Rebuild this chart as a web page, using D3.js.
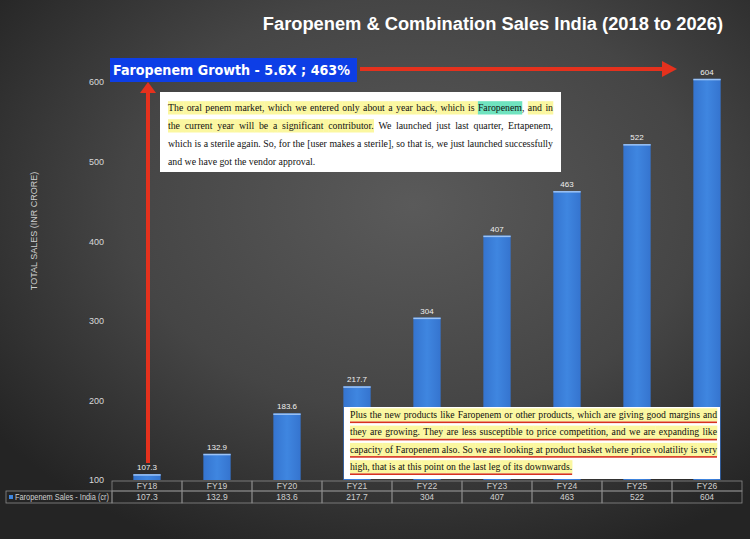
<!DOCTYPE html>
<html>
<head>
<meta charset="utf-8">
<script src="https://cdn.jsdelivr.net/npm/d3@7"></script>
<style>
  html, body { margin: 0; padding: 0; background: #2a2a2a; }
  svg { display: block; }
</style>
</head>
<body>
<svg id="chart" width="750" height="539"></svg>
<script>
// ---------- data ----------
const categories = ["FY18", "FY19", "FY20", "FY21", "FY22", "FY23", "FY24", "FY25", "FY26"];
const salesValues = [107.3, 132.9, 183.6, 217.7, 304, 407, 463, 522, 604];
const yTicks = [100, 200, 300, 400, 500, 600];
const seriesName = "Faropenem Sales - India (cr)";
const chartTitle = "Faropenem & Combination Sales India (2018 to 2026)";
const yAxisTitle = "TOTAL SALES (INR CRORE)";
const growthLabel = "Faropenem Growth - 5.6X ; 463%";

// quote boxes: segments with highlight keys (y = yellow, g = green, null = none)
const quote1Lines = [
  [{t: "The oral penem market, which we entered only about a year back, which is ", h: "y"}, {t: "Faropenem", h: "g"}, {t: ", ", h: null}, {t: "and in", h: "y"}],
  [{t: "the current year will be a significant contributor.", h: "y"}, {t: " We launched just last quarter, Ertapenem,", h: null}],
  [{t: "which is a sterile again. So, for the [user makes a sterile], so that is, we just launched successfully", h: null}],
  [{t: "and we have got the vendor approval.", h: null}]
];
const quote2Lines = [
  [{t: "Plus the new products like Faropenem or other products, which are giving good margins and", h: "y"}],
  [{t: "they are growing. They are less susceptible to price competition, and we are expanding like", h: "y"}],
  [{t: "capacity of Faropenem also. So we are looking at product basket where price volatility is very", h: "y"}],
  [{t: "high, that is at this point on the last leg of its downwards.", h: "y"}]
];

// ---------- setup ----------
const svg = d3.select("#chart");
const W = 750, H = 539;
const defs = svg.append("defs");

const bg = defs.append("radialGradient").attr("id", "bg")
  .attr("cx", "55%").attr("cy", "38%").attr("r", "70%");
bg.append("stop").attr("offset", "0%").attr("stop-color", "#5a5a5a");
bg.append("stop").attr("offset", "55%").attr("stop-color", "#454545");
bg.append("stop").attr("offset", "100%").attr("stop-color", "#242424");

const barGrad = defs.append("linearGradient").attr("id", "barGrad")
  .attr("x1", "0").attr("x2", "1").attr("y1", "0").attr("y2", "0");
barGrad.append("stop").attr("offset", "0%").attr("stop-color", "#3574cf");
barGrad.append("stop").attr("offset", "50%").attr("stop-color", "#3f86e0");
barGrad.append("stop").attr("offset", "100%").attr("stop-color", "#3574cf");

svg.append("rect").attr("width", W).attr("height", H).attr("fill", "url(#bg)");

const plotLeft = 112, plotRight = 742, plotTop = 82, plotBottom = 480;

const x = d3.scaleBand().domain(categories).range([plotLeft, plotRight]).padding(0);
const y = d3.scaleLinear().domain([100, 600]).range([plotBottom, plotTop]);
const barW = x.bandwidth() * 0.39;

const sans = "Liberation Sans, Arial, sans-serif";
const serif = "Liberation Serif, Times New Roman, serif";

// ---------- title ----------
svg.append("text")
  .attr("x", 723).attr("y", 30)
  .attr("text-anchor", "end")
  .attr("font-family", sans).attr("font-weight", "bold")
  .attr("font-size", 18.3).attr("fill", "#ffffff")
  .text(chartTitle);

// ---------- y axis ----------
const yAxis = d3.axisLeft(y).tickValues(yTicks).tickSize(0).tickPadding(0);
const yg = svg.append("g").attr("transform", "translate(104,0)").call(yAxis);
yg.select(".domain").remove();
yg.selectAll("text")
  .attr("font-family", sans).attr("font-size", 9).attr("fill", "#d8d8d8");

svg.append("text")
  .attr("transform", "translate(37,231) rotate(-90)")
  .attr("text-anchor", "middle")
  .attr("font-family", sans).attr("font-size", 9).attr("fill", "#cfcfcf")
  .text(yAxisTitle);

// ---------- bars ----------
const bars = svg.append("g");
bars.selectAll("rect.bar").data(salesValues).join("rect")
  .attr("class", "bar")
  .attr("x", (d, i) => x(categories[i]) + (x.bandwidth() - barW) / 2)
  .attr("width", barW)
  .attr("y", d => y(d))
  .attr("height", d => plotBottom - y(d))
  .attr("fill", "url(#barGrad)");
bars.selectAll("rect.top").data(salesValues).join("rect")
  .attr("class", "top")
  .attr("x", (d, i) => x(categories[i]) + (x.bandwidth() - barW) / 2)
  .attr("width", barW)
  .attr("y", d => y(d))
  .attr("height", 1.5)
  .attr("fill", "#9cc3f5");
bars.selectAll("text").data(salesValues).join("text")
  .attr("x", (d, i) => x(categories[i]) + x.bandwidth() / 2)
  .attr("y", d => y(d) - 4)
  .attr("text-anchor", "middle")
  .attr("font-family", sans).attr("font-size", 8).attr("fill", "#f0f0f0")
  .text(d => String(d));

// ---------- data table ----------
const tbl = svg.append("g");
const rowTop = 481, rowMid = 491, rowBot = 503, legendLeft = 6;
const gridCol = "#8a8a8a";
tbl.selectAll("rect.hdr").data(categories).join("rect")
  .attr("class", "hdr")
  .attr("x", d => x(d)).attr("y", rowTop)
  .attr("width", x.bandwidth()).attr("height", rowMid - rowTop)
  .attr("fill", "none").attr("stroke", gridCol).attr("stroke-width", 0.8);
tbl.selectAll("rect.val").data(categories).join("rect")
  .attr("class", "val")
  .attr("x", d => x(d)).attr("y", rowMid)
  .attr("width", x.bandwidth()).attr("height", rowBot - rowMid)
  .attr("fill", "none").attr("stroke", gridCol).attr("stroke-width", 0.8);
tbl.append("rect")
  .attr("x", legendLeft).attr("y", rowMid)
  .attr("width", plotLeft - legendLeft).attr("height", rowBot - rowMid)
  .attr("fill", "none").attr("stroke", gridCol).attr("stroke-width", 0.8);
tbl.selectAll("text.hdr").data(categories).join("text")
  .attr("class", "hdr")
  .attr("x", d => x(d) + x.bandwidth() / 2).attr("y", rowTop + 8)
  .attr("text-anchor", "middle")
  .attr("font-family", sans).attr("font-size", 8.5).attr("fill", "#d0d0d0")
  .text(d => d);
tbl.selectAll("text.val").data(salesValues).join("text")
  .attr("class", "val")
  .attr("x", (d, i) => x(categories[i]) + x.bandwidth() / 2).attr("y", rowMid + 9)
  .attr("text-anchor", "middle")
  .attr("font-family", sans).attr("font-size", 8.5).attr("fill", "#d0d0d0")
  .text(d => String(d));
tbl.append("rect").attr("x", 9).attr("y", rowMid + 4).attr("width", 4).attr("height", 4).attr("fill", "#3f86e0");
tbl.append("text")
  .attr("x", 15).attr("y", rowMid + 9)
  .attr("font-family", sans).attr("font-size", 8.5).attr("fill", "#d0d0d0")
  .attr("textLength", 94).attr("lengthAdjust", "spacingAndGlyphs")
  .text(seriesName);

// ---------- arrows ----------
const red = "#e5311d";
const arrows = svg.append("g");
arrows.append("line").attr("x1", 148).attr("y1", 463).attr("x2", 148).attr("y2", 92)
  .attr("stroke", red).attr("stroke-width", 4);
arrows.append("path").attr("d", "M140,93 L148,82 L156,93 Z").attr("fill", red);
arrows.append("line").attr("x1", 360).attr("y1", 69).attr("x2", 664).attr("y2", 69)
  .attr("stroke", red).attr("stroke-width", 4);
arrows.append("path").attr("d", "M662,61 L677,69 L662,77 Z").attr("fill", red);

// ---------- growth label ----------
svg.append("rect").attr("x", 110).attr("y", 58).attr("width", 247).attr("height", 24).attr("fill", "#0d3ee6");
svg.append("text")
  .attr("x", 113).attr("y", 75)
  .attr("font-family", "DejaVu Sans, Verdana, sans-serif").attr("font-weight", "bold")
  .attr("font-size", 14).attr("fill", "#ffffff")
  .attr("textLength", 237).attr("lengthAdjust", "spacingAndGlyphs")
  .text(growthLabel);

// ---------- quote boxes ----------
const hlColors = { y: "#fbf7a0", g: "#6fe3bf" };
const measurer = svg.append("text").attr("font-family", serif).attr("visibility", "hidden");
function measure(str, size) {
  measurer.attr("font-size", size).text(str);
  return measurer.node().getComputedTextLength();
}

function drawQuote(g, lines, opts) {
  const { x0, width, y0, lh, underline } = opts;
  const maxNat = d3.max(lines, segs => measure(segs.map(s => s.t).join(""), 10));
  const size = 10 * width / maxNat * 0.995;
  lines.forEach((segs, li) => {
    const baseY = y0 + li * lh;
    const chars = [];
    segs.forEach(s => { for (const c of s.t) chars.push({ c, h: s.h }); });
    const words = []; const spaces = [];
    let cur = null;
    chars.forEach(ch => {
      if (ch.c === " ") {
        if (cur) { words.push(cur); cur = null; spaces.push(ch.h); }
      } else {
        if (!cur) cur = [];
        const last = cur[cur.length - 1];
        if (last && last.h === ch.h) last.t += ch.c; else cur.push({ t: ch.c, h: ch.h });
      }
    });
    if (cur) words.push(cur);
    const wWidths = words.map(w => measure(w.map(p => p.t).join(""), size));
    const totalW = d3.sum(wWidths);
    const justify = li < lines.length - 1;
    const gap = justify ? (width - totalW) / (words.length - 1) : measure("a b", size) - measure("ab", size);
    let cx = x0;
    const positions = [];
    words.forEach((w, i) => { positions.push(cx); cx += wWidths[i] + gap; });
    words.forEach((w, i) => {
      let px = positions[i];
      w.forEach(p => {
        const pw = measure(p.t, size);
        if (p.h) g.append("rect").attr("x", px).attr("y", baseY - size).attr("width", pw + 0.3).attr("height", size + 3.5).attr("fill", hlColors[p.h]);
        px += pw;
      });
      if (i < words.length - 1 && spaces[i]) {
        const lastPiece = w[w.length - 1];
        const nextPiece = words[i + 1][0];
        if (lastPiece.h && nextPiece.h) {
          g.append("rect").attr("x", positions[i] + wWidths[i]).attr("y", baseY - size).attr("width", gap + 0.3).attr("height", size + 3.5).attr("fill", hlColors[spaces[i]]);
        }
      }
    });
    if (underline) {
      const endX = positions[positions.length - 1] + wWidths[wWidths.length - 1];
      g.append("rect").attr("x", x0).attr("y", baseY + 3.5).attr("width", endX - x0).attr("height", 1.6).attr("fill", "#d8321e");
    }
    const t = g.append("text").attr("font-family", serif).attr("font-size", size).attr("fill", "#111")
      .attr("y", baseY);
    words.forEach((w, i) => {
      t.append("tspan").attr("x", positions[i]).text(w.map(p => p.t).join(""));
    });
  });
}

const q1 = svg.append("g");
q1.append("rect").attr("x", 160).attr("y", 92).attr("width", 401).attr("height", 80).attr("fill", "#ffffff");
drawQuote(q1, quote1Lines, { x0: 168, width: 385, y0: 111, lh: 18, underline: false });

const q2 = svg.append("g");
q2.append("rect").attr("x", 344).attr("y", 407).attr("width", 376).attr("height", 72).attr("fill", "#ffffff");
drawQuote(q2, quote2Lines, { x0: 350, width: 367, y0: 418, lh: 17.3, underline: true });

measurer.remove();
</script>
</body>
</html>
